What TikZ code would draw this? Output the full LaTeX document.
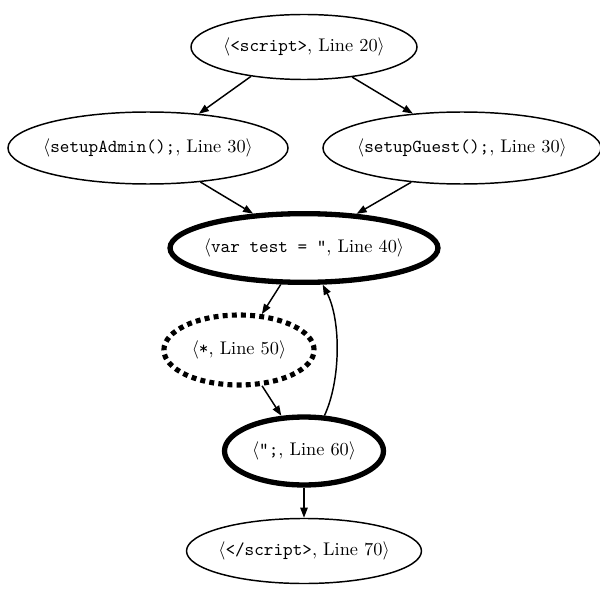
\documentclass[tikz,border=0pt]{standalone}
\usetikzlibrary{shapes.geometric,arrows.meta}
\begin{document}
\begin{tikzpicture}[x=0.546pt,y=-0.546pt,
  st/.style={draw,ellipse,inner sep=0pt,line width=0.8pt,font=\fontsize{10}{12}\selectfont},
  thickst/.style={st,line width=2.9pt},
  dotst/.style={st,line width=2.8pt,dash pattern=on 2.7pt off 2.3pt},
  edge/.style={line width=0.8pt,-{Triangle[length=5.5pt,width=4pt]}}]
\useasboundingbox (0,0) rectangle (600,593);
\newcommand\zb[1]{\makebox[0pt]{#1}}
\node[st,minimum width=123.4pt,minimum height=35.5pt] (n20) at (304,47) {\zb{$\langle$\texttt{<script>}, Line 20$\rangle$}};
\node[st,minimum width=152.9pt,minimum height=39.3pt] (n30a) at (148,148) {\zb{$\langle$\texttt{setupAdmin();}, Line 30$\rangle$}};
\node[st,minimum width=151.8pt,minimum height=39.3pt] (n30b) at (462,148) {\zb{$\langle$\texttt{setupGuest();}, Line 30$\rangle$}};
\node[thickst,minimum width=146.3pt,minimum height=37.5pt] (n40) at (304,248) {\zb{$\langle$\texttt{var test = "}, Line 40$\rangle$}};
\node[dotst,minimum width=82pt,minimum height=38.2pt] (n50) at (239,350) {\zb{$\langle$\texttt{*}, Line 50$\rangle$}};
\node[thickst,minimum width=86.8pt,minimum height=37.1pt] (n60) at (304,451) {\zb{$\langle$\texttt{";}, Line 60$\rangle$}};
\node[st,minimum width=128.3pt,minimum height=35.5pt] (n70) at (304,551) {\zb{$\langle$\texttt{</script>}, Line 70$\rangle$}};
\draw[edge] (n20.-151) -- (n30a.34);
\draw[edge] (n20.-32) -- (n30b.145);
\draw[edge] (n30a.-33) -- (n40.146);
\draw[edge] (n30b.-146) -- (n40.33);
\draw[edge] (n40) -- (n50);
\draw[edge] (n50) -- (n60);
\draw[edge] (n60.60) .. controls (341,380) and (341,320) .. (n40.-63);
\draw[edge] (n60) -- (n70);
\end{tikzpicture}
\end{document}
